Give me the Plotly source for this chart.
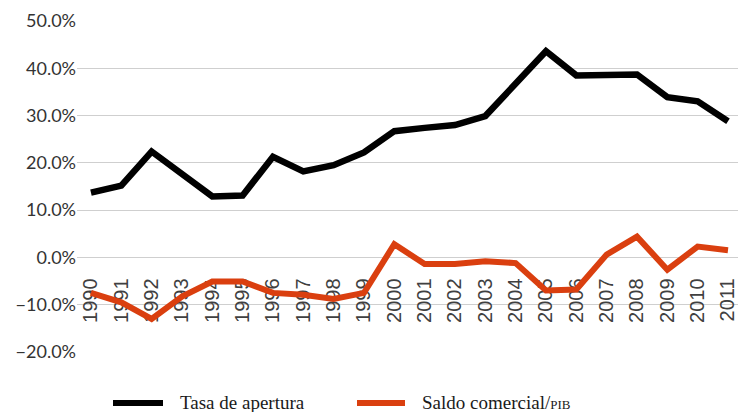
import plotly.graph_objects as go

years = [str(y) for y in range(1990, 2012)]
tasa_apertura = [0.137, 0.152, 0.224, 0.178, 0.129, 0.131, 0.213, 0.182, 0.195, 0.222,
                 0.267, 0.274, 0.280, 0.299, 0.366, 0.436, 0.385, 0.385, 0.387, 0.339,
                 0.330, 0.288]
saldo_comercial = [-0.075, -0.095, -0.130, -0.083, -0.051, -0.051, -0.075, -0.079, -0.088, -0.075,
                   0.028, -0.014, -0.014, -0.008, -0.012, -0.070, -0.068, 0.006, 0.044, -0.026,
                   0.023, 0.015]
series_names = ["Tasa de apertura", "Saldo comercial/<span style='font-size:13px'>PIB</span>"]
series_colors = ["#000000", "#DA3F0F"]

W, H = 738, 412
L, R, T, B = 77, 0, 21, 60
ymin, ymax = -0.2, 0.5

fig = go.Figure()
fig.add_trace(go.Scatter(x=years, y=tasa_apertura, mode="lines", name="Tasa de apertura",
                         line=dict(color=series_colors[0], width=6.5), showlegend=False))
fig.add_trace(go.Scatter(x=years, y=saldo_comercial, mode="lines", name="Saldo comercial/PIB",
                         line=dict(color=series_colors[1], width=6), showlegend=False))

pw = W - L - R
ph = H - T - B
def px2x(px):
    return (px - L) / pw
def py2y(py):
    return (H - B - py) / ph

# manual legend
leg_y = 403
samples = [(113, 163, 178), (357, 405, 420)]
for (x0, x1, tx), name, col in zip(samples, series_names, series_colors):
    fig.add_shape(type="line", xref="paper", yref="paper",
                  x0=px2x(x0), x1=px2x(x1), y0=py2y(leg_y), y1=py2y(leg_y),
                  line=dict(color=col, width=6))
    fig.add_annotation(xref="paper", yref="paper", x=px2x(tx), y=py2y(leg_y - 1),
                       xanchor="left", yanchor="middle", showarrow=False, text=name,
                       font=dict(family="Liberation Serif", size=19, color="#1a1a1a"))

fig.update_layout(
    width=W, height=H,
    margin=dict(l=L, r=R, t=T, b=B),
    plot_bgcolor="white", paper_bgcolor="white",
    showlegend=False,
    xaxis=dict(type="category", range=[-0.46, 21.33], anchor="free",
               position=(0 - ymin) / (ymax - ymin), showline=False, showgrid=False,
               zeroline=False, tickangle=-90, ticks="outside", ticklen=12,
               tickcolor="rgba(0,0,0,0)", layer="below traces",
               tickfont=dict(family="Liberation Sans", size=20, color="#404040")),
    yaxis=dict(range=[ymin, ymax], dtick=0.1, tickformat=".1%", showline=False,
               zeroline=False, gridcolor="#CFCFCF", gridwidth=1.3,
               tickfont=dict(family="Lato", size=18, color="#333333")),
)

fig.write_html("out.html", config={"displayModeBar": False},
               post_script="document.body.style.margin='0';")
